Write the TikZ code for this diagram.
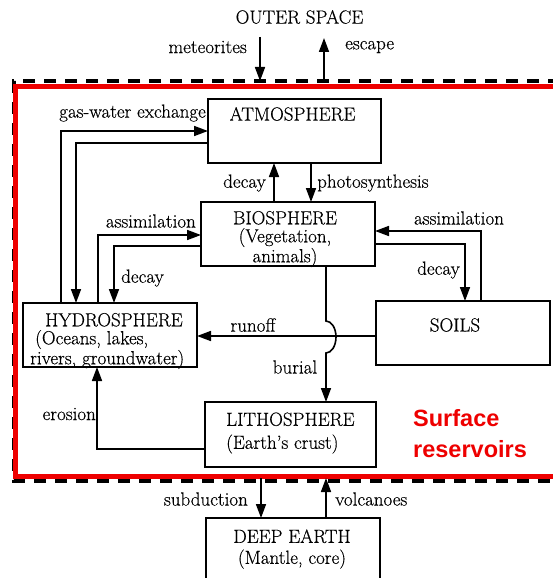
\documentclass[tikz,border=0pt]{standalone}
\usepackage{fontspec}
\setmainfont{Latin Modern Roman}[FakeBold=0.35]
\newfontfamily\arialfont{Liberation Sans}
\usetikzlibrary{arrows.meta}
\definecolor{frred}{RGB}{238,0,0}
\begin{document}
\begin{tikzpicture}[x=1pt,y=-1pt,
  lab/.style={font=\fontsize{19}{18}\selectfont, inner sep=0pt},
  box/.style={draw, line width=1.8pt, inner sep=0pt, outer sep=0pt},
  arr/.style={line width=1.6pt, -{Triangle[length=14pt,width=10pt]}},
]
\useasboundingbox (0,0) rectangle (552,578);
% frames
\draw[line width=3.5pt, dash pattern=on 12pt off 9pt] (560,81) -- (14,81) -- (14,481) -- (560,481);
\draw[frred, line width=5pt] (560,86) -- (15.5,86) -- (15.5,476) -- (560,476);

% boxes
\node[box, minimum width=173pt, minimum height=64pt] (atm) at (294.5,131) {};
\node[box, minimum width=174pt, minimum height=64pt] (bio) at (288,234) {};
\node[box, minimum width=174pt, minimum height=64pt] (hyd) at (110,335) {};
\node[box, minimum width=174pt, minimum height=64pt] (soil) at (463,333) {};
\node[box, minimum width=171pt, minimum height=65pt] (lith) at (290.5,434.5) {};
\node[box, minimum width=174pt, minimum height=90pt] (deep) at (293,563) {};

% box texts
\node[lab] (tAtm) at (292.5,114) {ATMOSPHERE};
\node[lab, align=center] (tBio) at (285,239) {BIOSPHERE\\(Vegetation,\\animals)};
\node[lab, align=left, anchor=west] (tHyd) at (30,341) {\hspace*{15pt}HYDROSPHERE\\\hspace*{5pt}(Oceans, lakes,\\rivers, groundwater)};
\node[lab] (tSoil) at (455,325) {SOILS};
\node[lab, align=left, anchor=west] (tLith) at (226,433) {LITHOSPHERE\\[5pt](Earth’s crust)};
\node[lab, align=center] (tDeep) at (292,549) {DEEP EARTH\\[3pt](Mantle, core)};

% outer space
\node[lab] (tOuter) at (299.5,17) {OUTER SPACE};
\coordinate (metTop) at (260,37);
\coordinate (metBot) at (260,81);
\draw[arr] (metTop) -- (metBot);
\node[lab, anchor=east] (lMet) at (247,47) {meteorites};
\coordinate (escBot) at (324,81);
\coordinate (escTop) at (324,38);
\draw[arr] (escBot) -- (escTop);
\node[lab, anchor=west] (lEsc) at (345,47) {escape};

% gas-water exchange
\draw[arr] ([xshift=38pt]hyd.north west) |- ([yshift=-32pt]atm.north west);
\draw[arr] ([yshift=-44pt]atm.north west) -| ([xshift=53pt]hyd.north west);
\node[lab, anchor=east] (lGas) at (206,113) {gas-water exchange};

% atmosphere <-> biosphere
\draw[arr] ([xshift=73pt]bio.north west) -- ([xshift=66pt]atm.south west);
\draw[arr] ([xshift=103pt]atm.south west) -- ([xshift=110pt]bio.north west);
\node[lab, anchor=east] (lDecA) at (266,183) {decay};
\node[lab, anchor=west] (lPhot) at (317,183) {photosynthesis};

% hydrosphere <-> biosphere
\draw[arr] ([xshift=75pt]hyd.north west) |- ([yshift=-33pt]bio.north west);
\draw[arr] ([yshift=-44pt]bio.north west) -| ([xshift=91pt]hyd.north west);
\node[lab, anchor=east] (lAssL) at (196,221) {assimilation};
\node[lab, anchor=west] (lDecL) at (121,278) {decay};

% soils <-> biosphere
\draw[arr] ([xshift=105pt]soil.north west) |- ([yshift=-29pt]bio.north east);
\draw[arr] ([yshift=-42pt]bio.north east) -| ([xshift=89pt]soil.north west);
\node[lab] (lAssR) at (459,218) {assimilation};
\node[lab, anchor=east] (lDecR) at (460,270) {decay};

% runoff
\draw[arr] ([yshift=-35pt]soil.north west) -- ([yshift=-33pt]hyd.north east);
\node[lab] (lRun) at (253,325) {runoff};

% burial with jump
\draw[arr] ([xshift=125pt]bio.south west) -- ++(0,55)
  arc[start angle=90, end angle=-90, x radius=10pt, y radius=16pt]
  -- ([xshift=121pt]lith.north west);
\node[lab] (lBur) at (295,367) {burial};

% erosion
\draw[arr] ([yshift=-47pt]lith.north west) -| ([xshift=74pt]hyd.south west);
\node[lab, anchor=east] (lEro) at (96,414) {erosion};

% deep earth
\coordinate (subTop) at (261,478);
\draw[arr] (subTop) -- ([xshift=55pt]deep.north west);
\coordinate (volTop) at (326,478);
\draw[arr] ([xshift=120pt]deep.north west) -- (volTop);
\node[lab, anchor=east] (lSub) at (248,499) {subduction};
\node[lab, anchor=west] (lVol) at (335,499) {volcanoes};

% surface reservoirs
\node[font=\arialfont\bfseries\fontsize{23.5}{31}\selectfont, text=frred, align=left, anchor=west, inner sep=0pt] (tSurf) at (413,434) {Surface\\reservoirs};
\end{tikzpicture}
\end{document}
